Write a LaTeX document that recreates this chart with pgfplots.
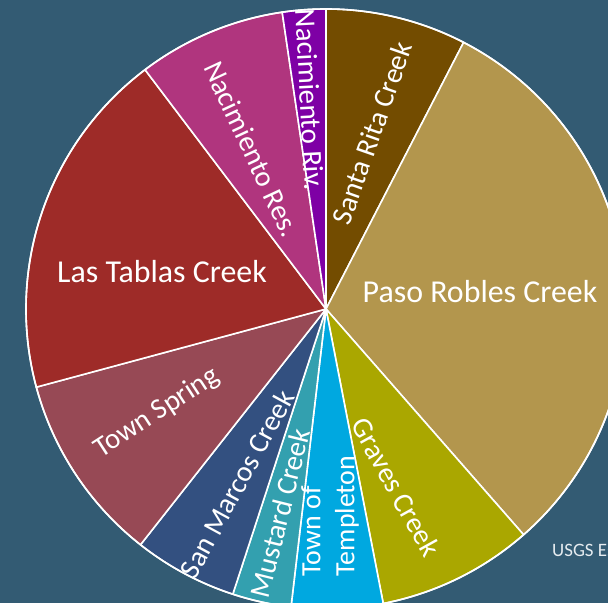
\documentclass[border=0pt]{standalone}
\usepackage{pgfplots}
\pgfplotsset{compat=1.18}
\usepackage{fontspec}
\setmainfont{Carlito}
\definecolor{bgc}{RGB}{51,91,115}
\definecolor{cSR}{RGB}{115,76,0}
\definecolor{cPR}{RGB}{179,150,77}
\definecolor{cGC}{RGB}{170,167,0}
\definecolor{cTT}{RGB}{0,168,224}
\definecolor{cMC}{RGB}{51,160,175}
\definecolor{cSM}{RGB}{51,80,128}
\definecolor{cTS}{RGB}{151,73,85}
\definecolor{cLT}{RGB}{158,43,40}
\definecolor{cNR}{RGB}{176,53,126}
\definecolor{cNV}{RGB}{126,0,165}
% slice: start angle, end angle (degrees, clockwise), colour
\newcommand{\slice}[3]{%
  \fill[#3, draw=white, line width=1.6bp, line join=round]
    (axis cs:326,294) -- ++(#1:300bp) arc[start angle=#1, end angle=#2, radius=300bp] -- cycle;}
\newcommand{\lab}[4]{%
  \node[text=white, rotate=#3, font=\fontsize{29}{34}\selectfont, align=left, inner sep=0pt] at (axis cs:#1,#2) {#4};}
\begin{document}
\begin{tikzpicture}
\begin{axis}[
  x=1bp, y=1bp, scale only axis,
  xmin=0, xmax=608, ymin=0, ymax=603,
  hide axis, clip=true,
]
\fill[bgc] (axis cs:0,0) rectangle (axis cs:608,603);
% slices: Santa Rita 27.3, Paso Robles 111.5, Graves 30.2, Templeton 17.7,
% Mustard 11.4, San Marcos 20.1, Town Spring 36.7, Las Tablas 68.0,
% Nacimiento Res. 28.7, Nacimiento Riv. 8.4 (degrees)
\slice{90}{62.7}{cSR}
\slice{62.7}{-48.8}{cPR}
\slice{-48.8}{-79.0}{cGC}
\slice{-79.0}{-96.7}{cTT}
\slice{-96.7}{-108.1}{cMC}
\slice{-108.1}{-128.2}{cSM}
\slice{-128.2}{-164.9}{cTS}
\slice{-164.9}{-232.9}{cLT}
\slice{-232.9}{-261.6}{cNR}
\slice{-261.6}{-270}{cNV}
\draw[white, line width=1.6bp] (axis cs:326,294) circle[radius=300bp];
\node[text=white, font=\fontsize{32}{34}\selectfont, anchor=base, inner sep=0pt] at (axis cs:162,320) {Las Tablas Creek};
\node[text=white, font=\fontsize{32}{34}\selectfont, anchor=base, inner sep=0pt] at (axis cs:480,300) {Paso Robles Creek};
\lab{372}{470}{70.7}{Santa Rita Creek}
\lab{252}{454}{-65}{Nacimiento Res.}
\lab{310}{503}{-87}{Nacimiento Riv.}
\lab{157}{190}{33}{Town Spring}
\lab{237}{119}{61.5}{San Marcos Creek}
\lab{280}{90}{76}{Mustard Creek}
\node[text=white, rotate=90, font=\fontsize{28}{34}\selectfont, align=left, inner sep=0pt] at (axis cs:330,87) {Town of\\Templeton};
\lab{396}{116}{-61}{Graves Creek}
\node[text={rgb,255:red,230;green,236;blue,240}, font=\fontsize{19}{22}\selectfont, anchor=base west, inner sep=0pt] at (axis cs:552,46) {USGS Estimates};
\end{axis}
\pgfresetboundingbox
\path[use as bounding box] (current axis.south west) rectangle (current axis.north east);
\end{tikzpicture}
\end{document}
